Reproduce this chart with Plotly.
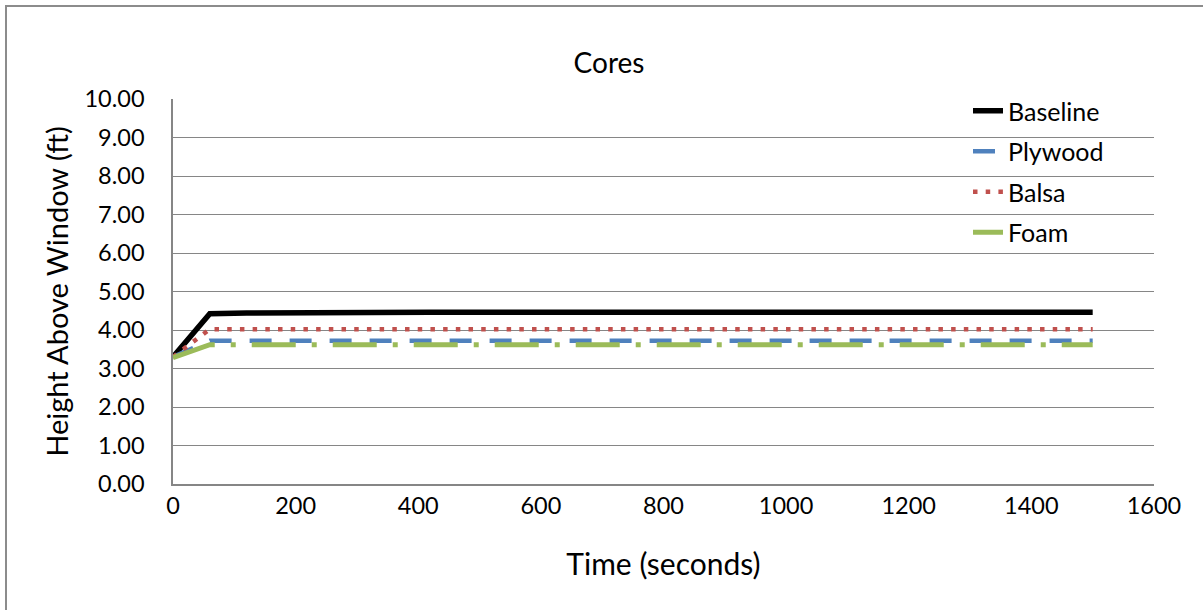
import plotly.graph_objects as go

time_s = [0, 60, 120, 180, 240, 300, 360, 420, 480, 540, 600, 660, 720, 780,
          840, 900, 960, 1020, 1080, 1140, 1200, 1260, 1320, 1380, 1440, 1500]
baseline = [3.30, 4.42, 4.44, 4.45, 4.45, 4.46, 4.46, 4.46, 4.46, 4.46, 4.46, 4.46, 4.46,
            4.46, 4.46, 4.46, 4.46, 4.46, 4.46, 4.46, 4.46, 4.46, 4.46, 4.46, 4.46, 4.46]
plywood = [3.30, 3.72, 3.72, 3.72, 3.72, 3.72, 3.72, 3.72, 3.72, 3.72, 3.72, 3.72, 3.72,
           3.72, 3.72, 3.72, 3.72, 3.72, 3.72, 3.72, 3.72, 3.72, 3.72, 3.72, 3.72, 3.72]
balsa = [3.30, 4.02, 4.02, 4.02, 4.02, 4.02, 4.02, 4.02, 4.02, 4.02, 4.02, 4.02, 4.02,
         4.02, 4.02, 4.02, 4.02, 4.02, 4.02, 4.02, 4.02, 4.02, 4.02, 4.02, 4.02, 4.02]
foam = [3.28, 3.62, 3.62, 3.62, 3.62, 3.62, 3.62, 3.62, 3.62, 3.62, 3.62, 3.62, 3.62,
        3.62, 3.62, 3.62, 3.62, 3.62, 3.62, 3.62, 3.62, 3.62, 3.62, 3.62, 3.62, 3.62]

x_ticks = [0, 200, 400, 600, 800, 1000, 1200, 1400, 1600]
y_ticks = [0, 1, 2, 3, 4, 5, 6, 7, 8, 9, 10]

FONT = "Lato"
GRID = "#868686"

fig = go.Figure()
fig.add_trace(go.Scatter(x=time_s, y=baseline, name="Baseline", mode="lines",
                         legendgroup="a",
                         line=dict(color="#000000", width=5.5)))
fig.add_trace(go.Scatter(x=time_s, y=plywood, name="Plywood", mode="lines",
                         legendgroup="b",
                         line=dict(color="#4F81BD", width=4.5, dash="22px,18px")))
fig.add_trace(go.Scatter(x=time_s, y=balsa, name="Balsa", mode="lines",
                         legendgroup="c",
                         line=dict(color="#C0504D", width=4.5, dash="4.5px,8.2px")))
fig.add_trace(go.Scatter(x=time_s, y=foam, name="Foam", mode="lines",
                         legendgroup="d",
                         line=dict(color="#9BBB59", width=5, dash="44px,16px,5px,16px")))

L, R, T, B = 173, 49, 99, 126
W, H = 1203, 610
pw, ph = W - L - R, H - T - B

fig.update_layout(
    width=W, height=H,
    margin=dict(l=L, r=R, t=T, b=B, autoexpand=False),
    paper_bgcolor="white", plot_bgcolor="white",
    font=dict(family=FONT, color="#000000", size=23),
    title=dict(text="Cores", x=609 / W, xref="container", xanchor="center",
               y=1 - 63 / H, yref="container", yanchor="middle",
               font=dict(family=FONT, size=28, color="#000000")),
    showlegend=True,
    legend=dict(x=(968 - L) / pw, xanchor="left", y=1 + 11 / ph, yanchor="top",
                bgcolor="rgba(0,0,0,0)", font=dict(family=FONT, size=25),
                traceorder="grouped", tracegroupgap=5),
    xaxis=dict(range=[0, 1600], tickvals=x_ticks, ticktext=[str(v) for v in x_ticks],
               showgrid=False, zeroline=False, showline=True, linecolor=GRID,
               linewidth=1.5, ticks="", ticklabelstandoff=0,
               title=dict(text="Time (seconds)", font=dict(family=FONT, size=30), standoff=36),
               tickfont=dict(family=FONT, size=23.5)),
    yaxis=dict(range=[0, 10], tickvals=y_ticks, ticktext=[f"{v:.2f}" for v in y_ticks],
               showgrid=True, gridcolor=GRID, gridwidth=1.3, zeroline=False,
               showline=True, linecolor=GRID, linewidth=1.5, ticks="",
               ticklabelstandoff=22,
               title=dict(text="Height Above Window (ft)", font=dict(family=FONT, size=29),
                          standoff=7),
               tickfont=dict(family=FONT, size=23.5)),
    shapes=[dict(type="rect", xref="paper", yref="paper",
                 x0=(6 - L) / pw, x1=(1214 - L) / pw,
                 y0=-(640 - (H - B)) / ph, y1=1 + (T - 6) / ph,
                 line=dict(color="#8C8C8C", width=2), fillcolor="rgba(0,0,0,0)",
                 layer="below")],
)

fig.write_html("out.html", config={"displayModeBar": False},
               post_script="document.body.style.margin='0';document.body.style.padding='0';")
